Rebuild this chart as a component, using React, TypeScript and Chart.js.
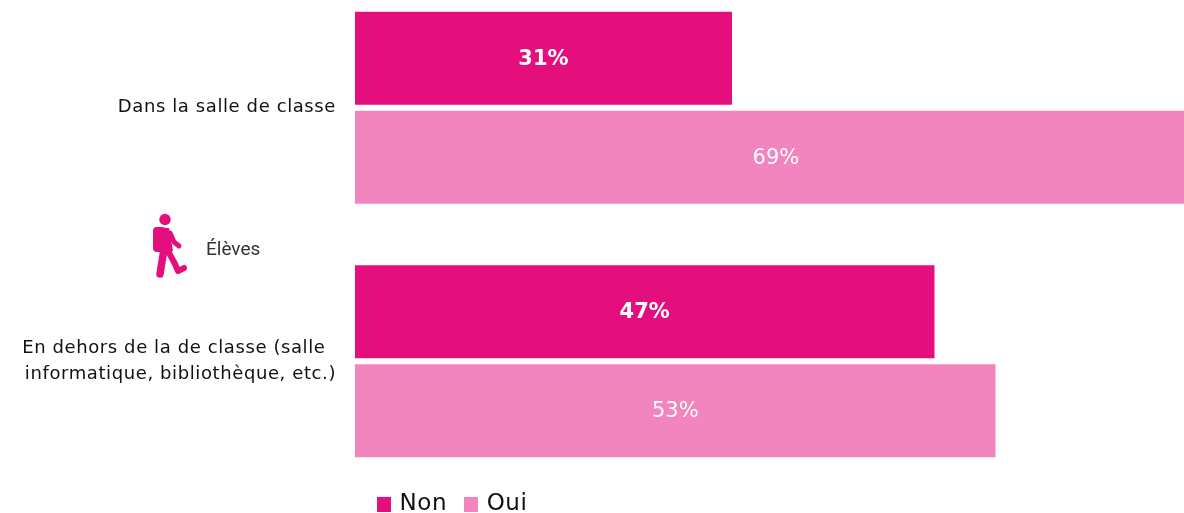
import React, { useEffect, useRef } from "react";
import { Chart, registerables } from "chart.js";

Chart.register(...registerables);

const categories: (string | string[])[] = [
  "Dans la salle de classe",
  ["En dehors de la de classe (salle\u00A0\u2009", "informatique, bibliothèque, etc.)"],
];
const nonValues = [30.9, 47.5];
const ouiValues = [69, 52.5];
const nonLabels = ["31%", "47%"];
const ouiLabels = ["69%", "53%"];
const xMax = 67.95;

const FONT = "'DejaVu Sans'";
const NON = "#e40f7d";
const OUI = "#f285bd";

function swatch(color: string) {
  const c = document.createElement("canvas");
  c.width = 14;
  c.height = 15;
  const g = c.getContext("2d")!;
  g.fillStyle = color;
  g.fillRect(0, 0, 14, 15);
  return c;
}

const barLabels = {
  id: "barLabels",
  beforeDraw(chart: any) {
    chart.ctx.letterSpacing = "0.6px";
  },
  beforeDatasetsDraw(chart: any) {
    chart.ctx.letterSpacing = "0px";
  },
  afterDatasetsDraw(chart: any) {
    const { ctx } = chart;
    [nonLabels, ouiLabels].forEach((labels, d) => {
      chart.getDatasetMeta(d).data.forEach((bar: any, i: number) => {
        ctx.save();
        ctx.fillStyle = "#ffffff";
        ctx.textAlign = "center";
        ctx.textBaseline = "middle";
        ctx.font = `${d === 0 ? "bold " : ""}21px ${FONT}`;
        ctx.fillText(labels[i], (bar.base + bar.x) / 2, bar.y + 1);
        ctx.restore();
      });
    });
  },
};

const legendPlace = {
  id: "legendPlace",
  afterLayout(chart: any) {
    const l = chart.legend;
    l.left = 368 - 8;
    l.right = 700;
    l.top = 491.5;
  },
};

export default function App() {
  const ref = useRef<HTMLCanvasElement>(null);
  useEffect(() => {
    document.body.style.margin = "0";
    document.body.style.overflow = "hidden";
    const swatches = [swatch(NON), swatch(OUI)];
    const chart = new Chart(ref.current!, {
      type: "bar",
      data: {
        labels: categories as any,
        datasets: [
          { label: "Non", data: nonValues, backgroundColor: NON },
          { label: "Oui", data: ouiValues, backgroundColor: OUI },
        ],
      },
      options: {
        indexAxis: "y",
        animation: false,
        responsive: false,
        categoryPercentage: 0.781,
        barPercentage: 0.939,
        layout: { padding: 0 },
        scales: {
          x: { display: false, min: 0, max: xMax },
          y: {
            afterFit(s: any) {
              s.width = 355;
              s.paddingTop = 0;
              s.paddingBottom = 0;
            },
            grid: { display: false },
            border: { display: false },
            ticks: {
              color: "#111111",
              padding: 11,
              autoSkip: false,
              font: { family: FONT, size: 18, lineHeight: 1.45 },
            },
          },
        },
        plugins: {
          tooltip: { enabled: false },
          legend: {
            position: "bottom",
            align: "start",
            labels: {
              usePointStyle: true,
              pointStyleWidth: 8,
              color: "#111111",
              padding: 20,
              font: { family: FONT, size: 23 },
              generateLabels: (c: any) =>
                (Chart.defaults.plugins.legend.labels as any).generateLabels(c).map((it: any, i: number) => ({
                  ...it,
                  pointStyle: swatches[i],
                })),
            },
          },
        },
      } as any,
      plugins: [barLabels, legendPlace],
    });
    return () => chart.destroy();
  }, []);
  return (
    <div style={{ position: "relative", width: 1184, height: 513, overflow: "hidden" }}>
      <canvas ref={ref} width={1184} height={560} style={{ position: "absolute", left: 0, top: -19, display: "block" }} />
      <svg width="60" height="80" viewBox="0 0 60 80" style={{ position: "absolute", left: 140, top: 205 }} fill="none">
        <circle cx="25" cy="14.5" r="5.7" fill={NON} />
        <rect x="13" y="22" width="13" height="25" rx="4" fill={NON} />
        <path d="M20 23 L29 23 L33 46 L20 48 Z" fill={NON} />
        <path d="M30 28 L34 37 L39 41" stroke={NON} strokeWidth="5" strokeLinecap="round" strokeLinejoin="round" />
        <path d="M24 44 L20 69" stroke={NON} strokeWidth="7.5" strokeLinecap="round" />
        <path d="M28 46 L35 59 L38 66 L44 63" stroke={NON} strokeWidth="6" strokeLinecap="round" strokeLinejoin="round" />
      </svg>
      <div style={{ position: "absolute", left: 206, top: 238, fontFamily: "Roboto", fontSize: 19, lineHeight: "22px", color: "#333333" }}>Élèves</div>
    </div>
  );
}
